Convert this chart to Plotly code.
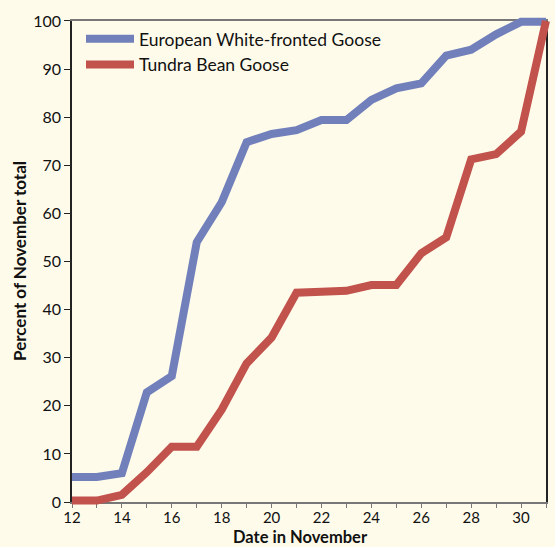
import plotly.graph_objects as go

days = list(range(12, 32))
white_fronted = [5.2, 5.2, 6.0, 22.8, 26.2, 54.0, 62.3, 74.8, 76.5, 77.3, 79.4, 79.4,
                 83.6, 86.0, 87.0, 92.8, 94.0, 97.2, 99.8, 99.8]
tundra_bean = [0.3, 0.3, 1.5, 6.2, 11.5, 11.5, 19.2, 28.8, 34.2, 43.5, 43.7, 43.9,
               45.1, 45.1, 51.7, 55.0, 71.2, 72.3, 77.0, 100.0]
x_ticks = list(range(12, 31, 2))
y_ticks = list(range(0, 101, 10))

W, H = 555, 547
L, R, T, B = 60, 2, 6, 42
px0, px1 = 72, 546     # pixel x of day 12 and day 31
py0, py1 = 502, 15     # pixel y of 0 and 100
pw, ph = W - L - R, H - T - B
xmin, xmax = 12, 31
ymin, ymax = 0, 100
dx = (px1 - px0) / (xmax - xmin)
dy = (py0 - py1) / (ymax - ymin)
x2range = [xmin - (px0 - L) / dx, xmax + (W - R - px1) / dx]
y2range = [ymin - ((H - B) - py0) / dy, ymax + (py1 - T) / dy]

BG = "#fefbeb"
BLUE = "#7180bb"
RED = "#c1524c"

fig = go.Figure()
# invisible trace on main axes so they render
fig.add_trace(go.Scatter(x=[xmin], y=[ymin], mode="markers", marker=dict(opacity=0),
                         showlegend=False, hoverinfo="skip"))
fig.add_trace(go.Scatter(x=days, y=white_fronted, mode="lines", name="European White-fronted Goose",
                         line=dict(color=BLUE, width=8), xaxis="x2", yaxis="y2"))
fig.add_trace(go.Scatter(x=days, y=tundra_bean, mode="lines", name="Tundra Bean Goose",
                         line=dict(color=RED, width=8), xaxis="x2", yaxis="y2"))

font = "Lato, 'Open Sans', sans-serif"
fig.update_layout(
    width=W, height=H,
    margin=dict(l=L, r=R, t=T, b=B, pad=0),
    paper_bgcolor=BG, plot_bgcolor="rgba(0,0,0,0)",
    font=dict(family=font, size=16, color="#111"),
    showlegend=True,
    legend=dict(x=(81 - L) / pw, y=1 - (15 - T) / ph, xanchor="left", yanchor="top",
                bgcolor="rgba(0,0,0,0)", font=dict(size=17.5, color="#111"),
                tracegroupgap=0, itemwidth=48),
    xaxis=dict(domain=[(px0 - L) / pw, (px1 - L) / pw], range=[xmin, xmax], anchor="y",
               tickvals=x_ticks, ticks="outside", ticklen=4, tickcolor="#777",
               minor=dict(ticks="outside", ticklen=4, tickcolor="#777", dtick=1, tick0=12),
               showline=True, linecolor="#777", linewidth=1.5, mirror=True,
               showgrid=False, zeroline=False, tickfont=dict(size=15), ticklabelstandoff=-3),
    yaxis=dict(domain=[((H - B) - py0) / ph, ((H - B) - py1) / ph], range=[ymin, ymax], anchor="x",
               tickvals=y_ticks, ticks="outside", ticklen=6, tickcolor="#222",
               showline=True, linecolor="#222", linewidth=1.5, mirror=True,
               showgrid=False, zeroline=False, tickfont=dict(size=16)),
    xaxis2=dict(domain=[0, 1], range=x2range, visible=False, anchor="y2"),
    yaxis2=dict(domain=[0, 1], range=y2range, visible=False, anchor="x2"),
    annotations=[
        dict(text="<b>Date in November</b>", x=(300 - L) / pw, y=1 - (537 - T) / ph,
             xref="paper", yref="paper", xanchor="center", yanchor="middle",
             showarrow=False, font=dict(size=16.5, color="#111")),
        dict(text="<b>Percent of November total</b>", x=(20 - L) / pw, y=1 - (258 - T) / ph,
             xref="paper", yref="paper", xanchor="center", yanchor="middle", textangle=-90,
             showarrow=False, font=dict(size=17, color="#111")),
    ],
)

fig.write_html("out.html", config={"displayModeBar": False},
               post_script="document.body.style.margin='0';document.body.style.background='%s';" % BG)
